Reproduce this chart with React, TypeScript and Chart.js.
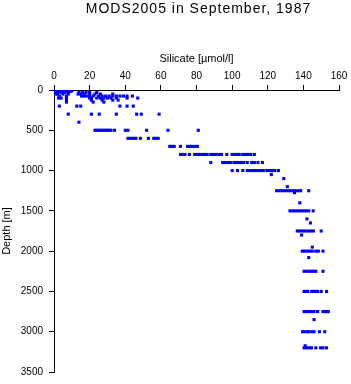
import React, { useEffect, useRef } from 'react';
import { Chart, registerables } from 'chart.js';

Chart.register(...registerables);

const chartTitle = 'MODS2005 in September, 1987';
const xAxisTitle = 'Silicate [µmol/l]';
const yAxisTitle = 'Depth [m]';

const xTicksMin = 0;
const xTicksMax = 160;
const xTickStep = 20;
const yTicksMin = 0;
const yTicksMax = 3500;
const yTickStep = 500;

// depth levels (m) and silicate values (µmol/l) observed at each level
const depthLevels = [
  0, 10, 20, 30, 50, 75, 100, 125, 150, 200, 300, 400, 500, 600, 700, 800, 900, 1000,
  1050, 1100, 1200, 1250, 1275, 1400, 1500, 1600, 1650, 1750, 1800, 1950, 2000, 2080,
  2250, 2500, 2750, 2850, 3000, 3175, 3200,
];

const silicateAtLevel: number[][] = [
  [1, 2, 3, 4, 5, 6, 7, 8, 9, 10],
  [1, 2, 3, 4, 5, 6, 8, 9, 10],
  [1, 2, 3, 5, 7, 9],
  [2, 4, 6, 8, 14, 16, 18, 20, 24],
  [1, 2, 5, 8, 13.5, 15, 17, 20, 23, 26, 33],
  [3, 7, 15.5, 17, 18.3, 20, 22, 25, 27, 29, 31, 33, 35, 37, 39, 41, 44],
  [2.5, 4, 7, 20, 21, 24, 26, 28, 30, 32, 35, 41, 47],
  [7, 21, 27, 33, 36],
  [7, 22, 28],
  [3, 12.8, 15, 37, 41, 44.5],
  [8, 21, 25.4, 35, 46.4, 49, 59],
  [14],
  [23, 24, 25, 26, 27, 28, 29, 30, 31, 32, 34, 40, 41.5, 52, 64, 81],
  [41.5, 43, 44.5, 46, 48.5, 53, 56, 57, 58.5],
  [65, 66, 67.5, 71, 75, 76, 77.5, 79, 80.5],
  [71, 72, 73.5, 76, 79, 80, 81.5, 83, 84.5, 86, 88, 89.5, 91, 92.5, 94, 97, 100, 101.5, 103, 104, 106, 107.5, 109, 110.5, 112.5],
  [88, 94.7, 96, 97.5, 99, 101, 102, 103.5, 105, 106.5, 108.5, 111, 112.5, 114.5, 117],
  [100, 103, 106, 108.5, 110, 111.5, 113, 114.5, 116, 117.5, 119.5, 121, 122.5, 124, 126],
  [122],
  [129],
  [131],
  [125, 126.5, 128, 129.5, 131, 132.5, 134, 135.5, 137, 138.5, 143],
  [135],
  [138],
  [132.5, 134, 135.5, 137, 138.5, 140, 141.5, 143, 145.5],
  [142],
  [144],
  [136.6, 138, 139.5, 141, 142.5, 144, 145.6, 150],
  [139],
  [145],
  [139.4, 140.5, 142, 143.5, 145, 147, 148.4, 151],
  [143],
  [140.4, 141.5, 143, 144.5, 146, 147, 151],
  [140.4, 141.5, 142.5, 144.7, 145.6, 147, 148, 150, 153],
  [140.4, 141.5, 143, 144.5, 146, 148, 151, 152.5, 154],
  [146],
  [139.6, 140.5, 142, 143, 144.7, 146, 149, 152],
  [141],
  [140.4, 141.5, 143, 144.5, 147, 149.7, 151, 153],
];

const FONT = '"Liberation Sans", Arial, Helvetica, sans-serif';

const titlePlugin = {
  id: 'fixedTitle',
  afterDraw(chart: any) {
    const ctx = chart.ctx;
    const { left, right } = chart.chartArea;
    ctx.save();
    ctx.font = `14px ${FONT}`;
    try {
      (ctx as any).letterSpacing = '1px';
    } catch (e) {}
    ctx.fillStyle = '#000';
    ctx.textAlign = 'center';
    ctx.textBaseline = 'middle';
    ctx.fillText(chartTitle, (left + right) / 2 + 2, 9);
    ctx.restore();
  },
};

export default function App() {
  const ref = useRef<HTMLCanvasElement | null>(null);

  useEffect(() => {
    document.body.style.margin = '0';
    const canvas = ref.current;
    if (!canvas) return;

    const points: { x: number; y: number }[] = [];
    depthLevels.forEach((d, i) => {
      silicateAtLevel[i].forEach((s) => points.push({ x: s, y: d }));
    });

    const chart = new Chart(canvas, {
      type: 'scatter',
      data: {
        datasets: [
          {
            data: points,
            pointStyle: 'rect',
            pointRadius: 2.2,
            pointHoverRadius: 2.2,
            backgroundColor: '#0000ff',
            borderWidth: 0,
          },
        ],
      },
      options: {
        animation: false,
        responsive: false,
        devicePixelRatio: 1,
        layout: { padding: { left: 0, top: 0, right: 12, bottom: 9 } },
        plugins: {
          legend: { display: false },
          tooltip: { enabled: false },
          title: { display: false },
        },
        scales: {
          x: {
            type: 'linear',
            position: 'top',
            min: xTicksMin,
            max: xTicksMax,
            ticks: {
              stepSize: xTickStep,
              color: '#000',
              font: { family: FONT, size: 10 },
              padding: 3,
              maxRotation: 0,
              callback: (v: any) => String(v),
            },
            grid: {
              drawOnChartArea: false,
              drawTicks: true,
              tickLength: 5,
              color: '#000',
            },
            border: { display: true, color: '#000', width: 1 },
            title: {
              display: true,
              text: xAxisTitle,
              color: '#000',
              font: { family: FONT, size: 11 },
              padding: { top: 52, bottom: 0 },
            },
            afterFit(scale: any) {
              scale.height = 90;
            },
          },
          y: {
            type: 'linear',
            position: 'left',
            reverse: true,
            min: yTicksMin,
            max: yTicksMax,
            ticks: {
              stepSize: yTickStep,
              color: '#000',
              font: { family: FONT, size: 10 },
              padding: 6,
              callback: (v: any) => String(v),
            },
            grid: {
              drawOnChartArea: false,
              drawTicks: true,
              tickLength: 5,
              color: '#000',
            },
            border: { display: true, color: '#000', width: 1 },
            title: {
              display: true,
              text: yAxisTitle,
              color: '#000',
              font: { family: FONT, size: 11 },
              padding: { top: 0, bottom: 0 },
            },
            afterFit(scale: any) {
              scale.width = 54;
            },
          },
        },
      },
      plugins: [titlePlugin],
    });

    return () => chart.destroy();
  }, []);

  return (
    <canvas
      ref={ref}
      width={351}
      height={384}
      style={{ display: 'block', width: 351, height: 384 }}
    />
  );
}
